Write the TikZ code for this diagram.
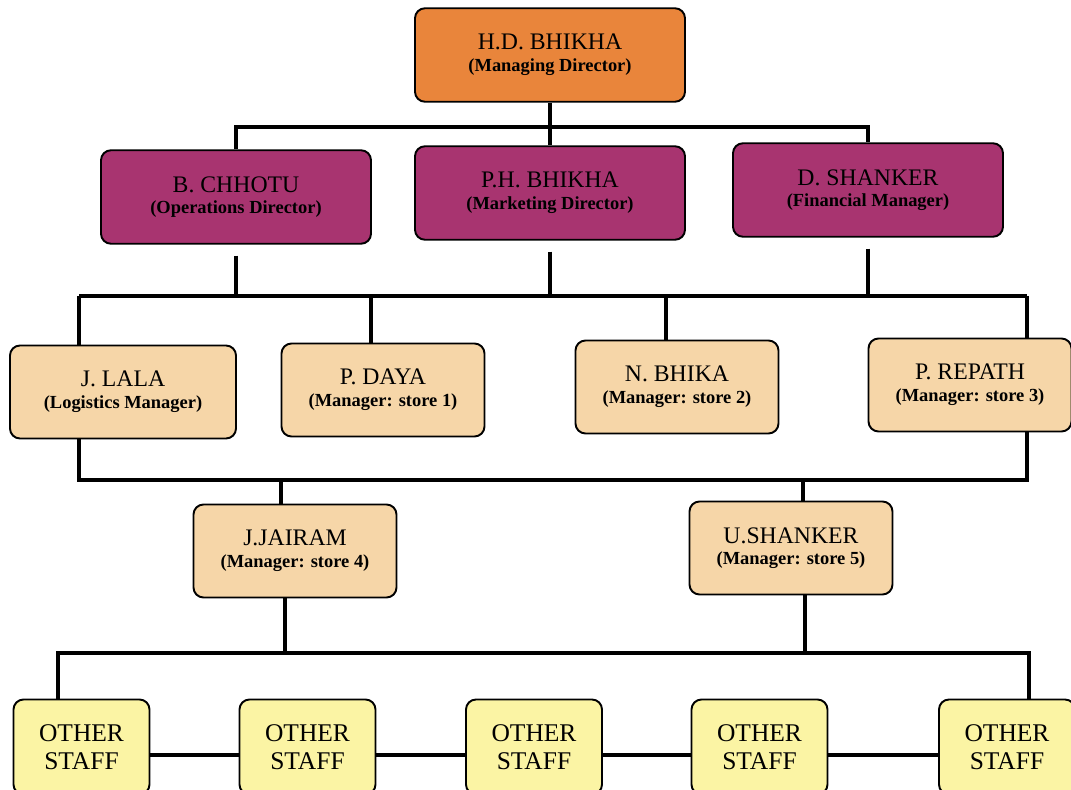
\documentclass[tikz,border=0pt]{standalone}
\usepackage{fontspec}
\setmainfont{Liberation Serif}
\usetikzlibrary{positioning}
\definecolor{mdorange}{RGB}{233,133,59}
\definecolor{dirpurple}{RGB}{168,52,112}
\definecolor{mgrtan}{RGB}{246,214,168}
\definecolor{staffyellow}{RGB}{251,244,164}

\begin{document}
\begin{tikzpicture}[
        every node/.style={font=\fontsize{13.5}{12.3}\selectfont, align=center},
        box/.style={draw=black, line width=1.1pt, rounded corners=0.2cm, inner sep=0pt},
        director/.style={box, minimum width=5.4cm, minimum height=1.87cm},
        manager/.style={box, fill=mgrtan, minimum width=4.06cm, minimum height=1.86cm},
        staff/.style={box, fill=staffyellow, minimum width=2.72cm, minimum height=1.9cm,
                      font=\fontsize{14.5}{16.2}\selectfont},
        link/.style={line width=2.4pt}
    ]
	\useasboundingbox (0,0) rectangle (21.42,-15.8);
	\newcommand{\rolefont}{\bfseries\fontsize{10.5}{12}\selectfont}
	% directors
	\node[director, fill=mdorange] (hd) at (11,-1.1) {H.D. BHIKHA\\{\rolefont (Managing Director)}};
	\node[director, fill=dirpurple] (bc) at (4.72,-3.94) {B. CHHOTU\\{\rolefont (Operations Director)}};
	\node[director, fill=dirpurple] (phb) at (11,-3.86) {P.H. BHIKHA\\{\rolefont (Marketing Director)}};
	\node[director, fill=dirpurple] (ds) at (17.36,-3.8) {D. SHANKER\\{\rolefont (Financial Manager)}};
	% managers
	\node[manager, minimum width=4.52cm] (jl) at (2.46,-7.84) {J. LALA\\{\rolefont (Logistics Manager)}};
	\node[manager] (pd) at (7.66,-7.8) {P. DAYA\\{\rolefont (Manager: store 1)}};
	\node[manager] (nb) at (13.54,-7.74) {N. BHIKA\\{\rolefont (Manager: store 2)}};
	\node[manager] (pr) at (19.4,-7.7) {P. REPATH\\{\rolefont (Manager: store 3)}};
	\node[manager] (jj) at (5.9,-11.02) {J.JAIRAM\\{\rolefont (Manager: store 4)}};
	\node[manager] (us) at (15.82,-10.96) {U.SHANKER\\{\rolefont (Manager: store 5)}};
	% other staff
	\foreach \i/\x in {1/1.63, 2/6.15, 3/10.68, 4/15.19, 5/20.14}
		{
		  \node[staff] (os\i) at (\x,-14.94) {OTHER\\STAFF};
		};
	% junctions
	\coordinate (j1) at (11,-2.54);
	\coordinate (j2l) at (1.58,-5.92);
	\coordinate (j2r) at (20.54,-5.92);
	\coordinate (j3) at (11,-9.6);
	\coordinate (j4l) at (1.16,-13.06);
	\coordinate (j4r) at (20.58,-13.06);
	% lines
	\draw[link] (hd.south) -- (phb.north);
	\draw[link] (bc.north) |- (j1) -| (ds.north);
	\draw[link] (j2l) -- (j2r);
	\foreach \n in {bc,phb,ds}
		{
		  \draw[link, shorten <=0.22cm] (\n.south) -- (\n.south |- j2l);
		};
	\draw[link] (j2l) -- (j2l |- jl.north);
	\draw[link] (j2r) -- (j2r |- pr.north);
	\draw[link] ([xshift=-0.24cm]pd.north) -- ([xshift=-0.24cm]pd.north |- j2l);
	\draw[link] ([xshift=-0.22cm]nb.north) -- ([xshift=-0.22cm]nb.north |- j2l);
	\draw[link] (jl.south -| j2l) |- (j3) -| (pr.south -| j2r);
	\draw[link] ([xshift=-0.28cm]jj.north) -- ([xshift=-0.28cm]jj.north |- j3);
	\draw[link] ([xshift=0.24cm]us.north) -- ([xshift=0.24cm]us.north |- j3);
	\draw[link] ([xshift=-0.2cm]jj.south) -- ([xshift=-0.2cm]jj.south |- j4l);
	\draw[link] ([xshift=0.28cm]us.south) -- ([xshift=0.28cm]us.south |- j4l);
	\draw[link] (os1.north -| j4l) |- (j4r) -- (os5.north -| j4r);
	\foreach \a/\b in {1/2, 2/3, 3/4, 4/5}
		{
		  \draw[link] ([yshift=-0.16cm]os\a.east) -- ([yshift=-0.16cm]os\b.west);
		};
\end{tikzpicture}
\end{document}
